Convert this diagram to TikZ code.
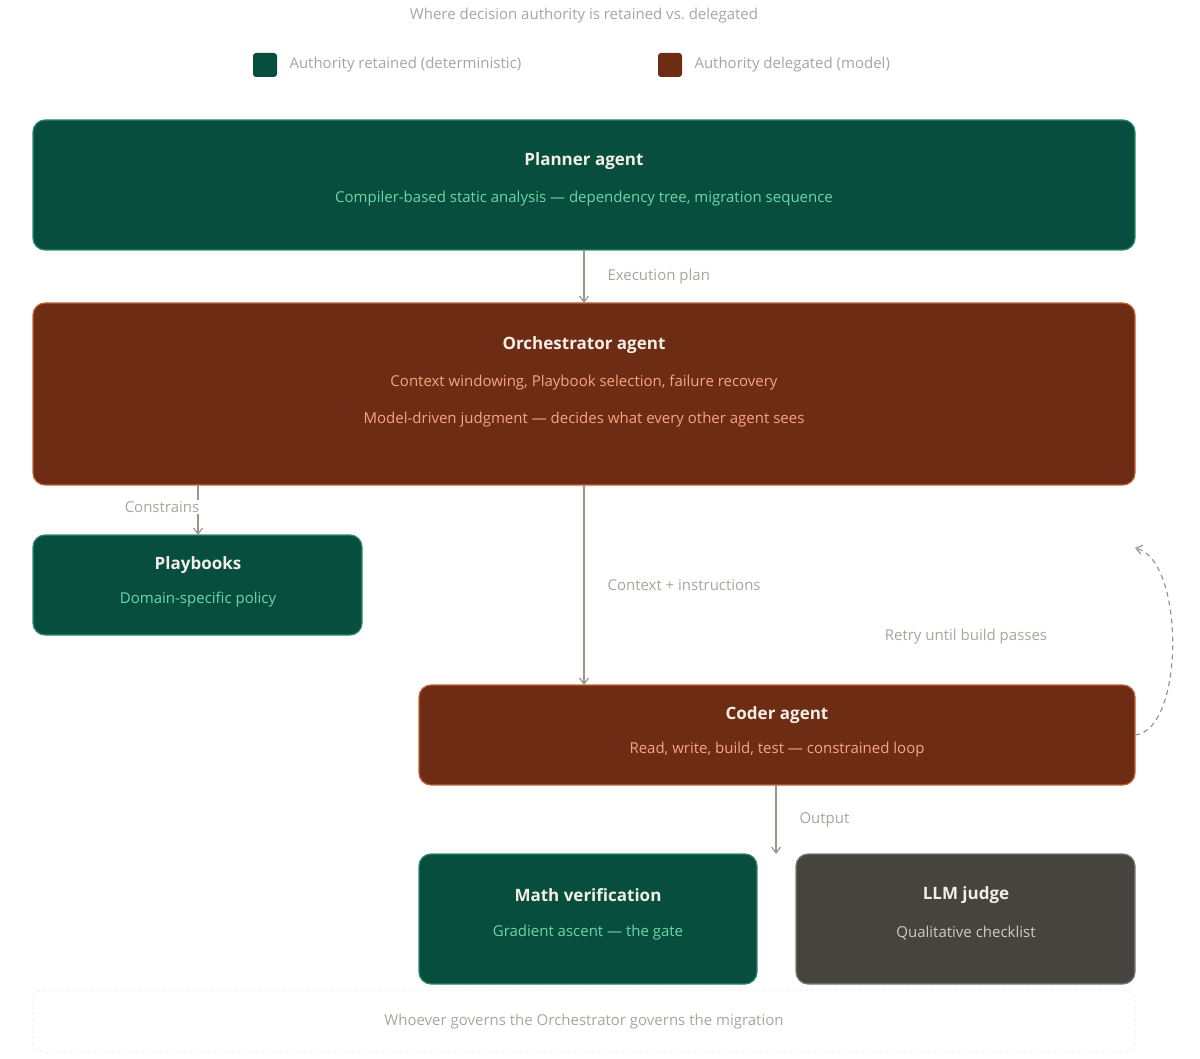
\documentclass[tikz,border=0pt]{standalone}
\usepackage{fontspec}
\setmainfont{Open Sans}
\usetikzlibrary{arrows.meta}
\definecolor{gbox}{HTML}{074E3E}
\definecolor{gline}{HTML}{2E8A6A}
\definecolor{obox}{HTML}{6E2C15}
\definecolor{oline}{HTML}{C0643E}
\definecolor{kbox}{HTML}{45443F}
\definecolor{gtxt}{HTML}{6CD6AA}
\definecolor{otxt}{HTML}{F5A584}
\definecolor{ktxt}{HTML}{CFCBC2}
\definecolor{ttl}{HTML}{F2EEE6}
\definecolor{lbl}{HTML}{A9A59D}
\definecolor{arr}{HTML}{9A968E}
\begin{document}
\begin{tikzpicture}[x=1pt,y=-1pt,
  box/.style={rounded corners=12pt,line width=1.2pt},
  gb/.style={box,fill=gbox,draw=gline},
  ob/.style={box,fill=obox,draw=oline},
  kb/.style={box,fill=kbox,draw=kbox!70!white},
  ttlt/.style={text=ttl,font=\fontsize{17}{20}\selectfont\bfseries},
  sub/.style={font=\fontsize{15}{18}\selectfont},
  lab/.style={text=lbl,font=\fontsize{15}{18}\selectfont},
  ar/.style={draw=arr,line width=1.2pt,-{Straight Barb[length=6pt,width=9pt]}}]
\useasboundingbox (0,0) rectangle (1200,1059);
\node[lab] (title) at (584,16) {Where decision authority is retained vs.\ delegated};
\fill[gbox,rounded corners=3pt] (253,53) rectangle (277,77);
\fill[obox,rounded corners=3pt] (658,53) rectangle (682,77);
\node[lab,anchor=west] (l1) at (286,65) {Authority retained (deterministic)};
\node[lab,anchor=west] (l2) at (691,65) {Authority delegated (model)};
% boxes
\draw[gb] (33,120) rectangle (1135,250);
\coordinate (pT) at (584,120); \coordinate (pB) at (584,250);
\node[ttlt] (pt) at (584,161) {Planner agent};
\node[sub,text=gtxt] (ps) at (584,199) {Compiler-based static analysis — dependency tree, migration sequence};
\draw[ob] (33,303) rectangle (1135,485);
\coordinate (oT) at (584,303); \coordinate (oB) at (584,485); \coordinate (oBL) at (198,485);
\node[ttlt] (ot) at (584,345) {Orchestrator agent};
\node[sub,text=otxt] (os1) at (584,383) {Context windowing, Playbook selection, failure recovery};
\node[sub,text=otxt] (os2) at (584,420) {Model-driven judgment — decides what every other agent sees};
\draw[gb] (33,535) rectangle (362,635);
\coordinate (plT) at (198,535);
\node[ttlt] (plt) at (198,565) {Playbooks};
\node[sub,text=gtxt] (pls) at (198,600) {Domain-specific policy};
\draw[ob] (419,685) rectangle (1135,785);
\coordinate (cT) at (584,685); \coordinate (cB) at (776,785); \coordinate (cR) at (1135,735);
\node[ttlt] (ct) at (777,715) {Coder agent};
\node[sub,text=otxt] (cs) at (777,750) {Read, write, build, test — constrained loop};
\draw[gb] (419,854) rectangle (757,984);
\node[ttlt] (mt) at (588,895) {Math verification};
\node[sub,text=gtxt] (ms) at (588,933) {Gradient ascent — the gate};
\draw[kb] (796,854) rectangle (1135,984);
\coordinate (gT) at (776,854);
\node[ttlt] (jt) at (966,895) {LLM judge};
\node[sub,text=ktxt] (js) at (966,933) {Qualitative checklist};
\draw[gray!12,dashed,rounded corners=10pt,line width=1pt] (33,990) rectangle (1135,1052);
\node[lab] (foot) at (584,1022) {Whoever governs the Orchestrator governs the migration};
% arrows
\draw[ar] (pB) -- (oT);
\node[lab,anchor=west] (ep) at (604,277) {Execution plan};
\draw[ar] (oB) -- (cT);
\node[lab,anchor=west] (ci) at (604,585) {Context + instructions};
\draw[ar] (cB) -- (gT);
\node[lab,anchor=west] (out) at (796,820) {Output};
\draw[ar] (oBL) -- (plT);
\node[lab,fill=white,inner sep=1pt] (cons) at (162,507) {Constrains};
\coordinate (rE) at (1135,548);
\draw[ar,dashed,dash pattern=on 5pt off 4pt] (cR) .. controls (1185,730) and (1185,560) .. (rE);
\node[lab] (retry) at (966,637) {Retry until build passes};
\end{tikzpicture}
\end{document}
